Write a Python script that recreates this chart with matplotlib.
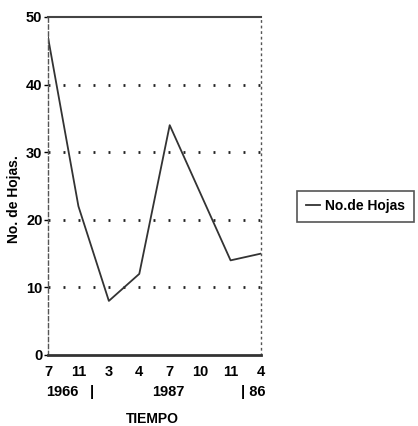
import matplotlib
matplotlib.use("Agg")
import matplotlib.pyplot as plt
import matplotlib.transforms as mtransforms

plt.rcParams['font.family'] = ['Liberation Sans', 'DejaVu Sans']
plt.rcParams['font.weight'] = 'bold'

# data
month_labels = ['7', '11', '3', '4', '7', '10', '11', '4']
hojas = [47, 22, 8, 12, 34, 24, 14, 15]
year_labels = ['1966', '|', '1987', '| 86']
year_pos = [0.46, 1.45, 3.95, 6.75]
y_ticks = [0, 10, 20, 30, 40, 50]

x = list(range(len(hojas)))

fig = plt.figure(figsize=(4.18, 4.26), dpi=100)
ax = fig.add_axes([48/418, 1 - 355/426, (261 - 48)/418, (355 - 17)/426])

ax.plot(x, hojas, color='#333333', lw=1.3, label='No.de Hojas')

ax.set_xlim(0, 7)
ax.set_ylim(0, 50)
ax.set_xticks(x)
ax.set_xticklabels(month_labels)
ax.set_yticks(y_ticks)
ax.tick_params(axis='x', length=0, pad=7, labelsize=10.5)
ax.tick_params(axis='y', length=3, width=1, pad=1, labelsize=10.5, direction='out')

# dotted gridlines
for v in y_ticks[1:-1]:
    ax.axhline(v, color='#222222', lw=2, ls=(0, (0.7, 4.7)), zorder=0)

ax.spines['top'].set_linewidth(1.5)
ax.spines['top'].set_color('#444444')
ax.spines['bottom'].set_linewidth(2)
ax.spines['bottom'].set_color('#333333')
ax.spines['left'].set_linestyle((0, (3, 2)))
ax.spines['left'].set_color('#555555')
ax.spines['left'].set_linewidth(1)
ax.spines['right'].set_linestyle((0, (1, 3)))
ax.spines['right'].set_color('#555555')
ax.spines['right'].set_linewidth(1)

trans = mtransforms.blended_transform_factory(ax.transData, ax.transAxes)
for lab, p in zip(year_labels, year_pos):
    ax.text(p, -0.108, lab, transform=trans, ha='center', va='center',
            fontsize=10.5, fontweight='bold')

fig.text(152/418, 1 - 419/426, 'TIEMPO', ha='center', va='center',
         fontsize=10, fontweight='bold')
ax.set_ylabel('No. de Hojas.', fontsize=10, fontweight='bold')
ax.yaxis.set_label_coords(-0.125, 0.46)

leg = fig.legend(loc='center left', bbox_to_anchor=(0.695, 0.516),
                 fontsize=10, handlelength=1.0, handletextpad=0.4,
                 borderpad=0.6, fancybox=False, framealpha=1,
                 edgecolor='#555555')
leg.get_frame().set_linewidth(1.2)

fig.savefig('out.png', dpi=100)
